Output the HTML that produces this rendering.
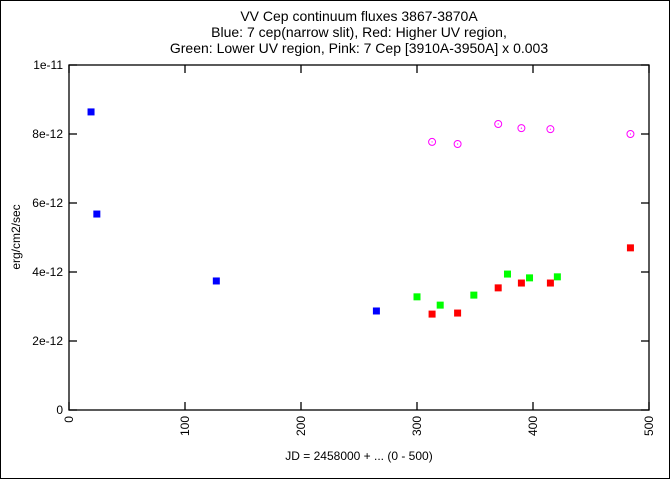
<!DOCTYPE html>
<html><head><meta charset="utf-8"><style>
body{margin:0;background:#fff}
svg{display:block;font-family:"Liberation Sans",sans-serif}
</style></head><body>
<svg id="chart" width="670" height="479" viewBox="0 0 670 479" xmlns="http://www.w3.org/2000/svg">
<rect x="0.5" y="0.5" width="669" height="478" fill="#fff" stroke="#000"/>
<g font-size="14" text-anchor="middle" fill="#000">
<text x="359" y="21">VV Cep continuum fluxes 3867-3870A</text>
<text x="359" y="37">Blue: 7 cep(narrow slit), Red: Higher UV region,</text>
<text x="359" y="53">Green: Lower UV region, Pink: 7 Cep [3910A-3950A] x 0.003</text>
</g>
<g id="axes"></g>
<g id="marks"></g>
<text x="359" y="460" font-size="12" text-anchor="middle">JD = 2458000 + ... (0 - 500)</text>
<text transform="translate(20,237) rotate(-90)" font-size="12" text-anchor="middle">erg/cm2/sec</text>
</svg>
<script>
const xTicks=[0,100,200,300,400,500];
const yTicks=[0,2,4,6,8,10];
const yTickLabels=["0","2e-12","4e-12","6e-12","8e-12","1e-11"];
const blueX=[19,24,127,265];
const blueY=[8.64,5.68,3.74,2.87];
const redX=[313,335,370,390,415,484];
const redY=[2.78,2.81,3.54,3.68,3.68,4.70];
const greenX=[300,320,349,378,397,421];
const greenY=[3.28,3.04,3.33,3.94,3.83,3.86];
const pinkX=[313,335,370,390,415,484];
const pinkY=[7.77,7.71,8.29,8.17,8.14,8.00];

const L=69,R=649,T=65,B=410;
const sx=v=>L+(v-0)/500*(R-L);
const sy=v=>B-(v-0)/10*(B-T);
const NS="http://www.w3.org/2000/svg";
function mk(tag,attrs,parent){const e=document.createElementNS(NS,tag);for(const k in attrs)e.setAttribute(k,attrs[k]);parent.appendChild(e);return e;}
const axes=document.getElementById('axes'),marks=document.getElementById('marks');
const frame=mk('rect',{x:L,y:T,width:R-L,height:B-T,fill:'none',stroke:'#000','stroke-width':1.3},axes);


xTicks.forEach(t=>{
  const x=sx(t);
  const l1=mk('line',{x1:x,x2:x,y1:B,y2:B-8,stroke:'#000','stroke-width':1.3},axes);
  
  
  const l2=mk('line',{x1:x,x2:x,y1:T,y2:T+8,stroke:'#000','stroke-width':1.3},axes);
  
  
  const tx=mk('text',{transform:`translate(${x+4},${B+6}) rotate(-90)`,'font-size':12,'text-anchor':'end'},axes);
  tx.textContent=String(t);
  
  
});
yTicks.forEach((t,i)=>{
  const y=sy(t);
  const l1=mk('line',{x1:L,x2:L+8,y1:y,y2:y,stroke:'#000','stroke-width':1.3},axes);
  
  
  const l2=mk('line',{x1:R,x2:R-8,y1:y,y2:y,stroke:'#000','stroke-width':1.3},axes);
  
  
  const tx=mk('text',{x:L-6,y:y+4,'font-size':12,'text-anchor':'end'},axes);
  tx.textContent=yTickLabels[i];
  
  
});
function squares(xs,ys,color,name){
  xs.forEach((v,i)=>{
    const r=mk('rect',{x:sx(v)-3.5,y:sy(ys[i])-3.5,width:7,height:7,fill:color},marks);
    
    
  });
}
squares(blueX,blueY,'#0000ff','blue-point');
squares(redX,redY,'#ff0000','red-point');
squares(greenX,greenY,'#00ff00','green-point');
pinkX.forEach((v,i)=>{
  const c=mk('circle',{cx:sx(v),cy:sy(pinkY[i]),r:3.5,fill:'none',stroke:'#ff00ff','stroke-width':1},marks);
  
  
  const d=mk('circle',{cx:sx(v),cy:sy(pinkY[i]),r:0.6,fill:'#ff00ff'},marks);
  
  
});
</script>
</body></html>
